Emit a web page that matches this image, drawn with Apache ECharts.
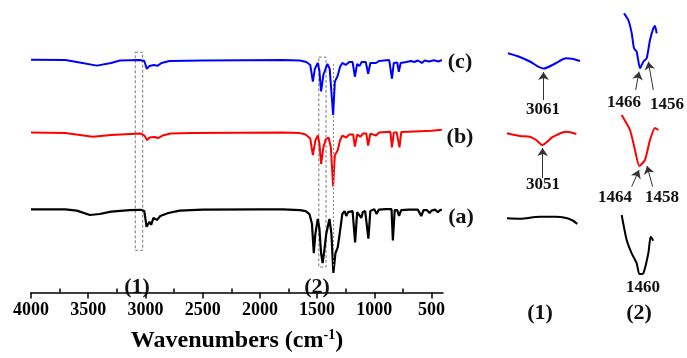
<!DOCTYPE html>
<html><head><meta charset="utf-8">
<script src="https://cdn.jsdelivr.net/npm/echarts@6/dist/echarts.min.js"></script>
<style>html,body{margin:0;padding:0;background:#fff}#c{width:687px;height:358px}</style>
</head><body><div id="c"></div>
<script>
// x tick labels and minor ticks (wavenumber, cm-1)
const xTickLabels = [4000,3500,3000,2500,2000,1500,1000,500];
const xMinorTicks = [3750,3250,2750,2250,1750,1250,750];

// Main spectra: [wavenumber, offset transmittance (a.u.)]
const specA = [[4000,84.7],[3700,84.7],[3600,83.5],[3485,79],[3400,80],[3300,82.5],[3136,84],[3040,84.3],[3010,83],[2990,67],[2965,72],[2950,69],[2930,76],[2900,74],[2870,78],[2800,81],[2700,83.5],[2500,84.5],[2000,84.8],[1800,84.8],[1650,84],[1600,83],[1567,80],[1545,70],[1529,40],[1515,60],[1494,75],[1480,65],[1465,40],[1452,30],[1440,40],[1420,60],[1392,75],[1375,60],[1358,20],[1340,40],[1320,46],[1305,58],[1280,80],[1260,83],[1245,78],[1230,82],[1190,83],[1168,51],[1150,82],[1140,83],[1114,76],[1100,82],[1080,83],[1052,55],[1035,83],[1000,85],[980,80],[960,84.5],[900,85],[850,85],[838,53],[822,84],[800,84],[784,78],[765,84],[700,84.5],[620,84.5],[590,78],[570,84],[540,84],[518,81],[500,83.5],[470,84.5],[445,82],[425,84],[410,84.5]];
const specB = [[4000,163],[3700,162.5],[3460,158.7],[3300,160.5],[3130,161.5],[3040,162],[3010,160],[2985,155.3],[2965,158],[2950,156],[2920,158.5],[2890,157.5],[2850,160],[2780,162],[2600,162.5],[1800,163],[1650,162.5],[1600,161],[1560,157],[1537,140],[1515,155],[1494,160],[1480,152],[1465,131],[1445,148],[1425,156],[1400,158],[1380,148],[1360,108],[1345,140],[1320,145],[1300,155],[1280,160],[1245,158],[1220,161],[1185,161],[1170,148.7],[1150,161],[1120,159],[1100,162],[1070,162],[1054,149.7],[1035,162],[985,160],[960,163],[860,164],[846,148],[830,163],[805,163.5],[780,148],[765,163.5],[700,164],[600,164.5],[500,165],[410,166]];
const specC = [[4000,237.3],[3700,237],[3600,235],[3424,231.3],[3300,234],[3223,236.5],[3050,237],[3010,236],[2988,228],[2965,231],[2950,229.5],[2925,232],[2895,231],[2860,234],[2790,236],[2500,236.5],[1800,237],[1650,236.5],[1594,235],[1560,232],[1537,215],[1520,228],[1494,234],[1480,226],[1465,205],[1445,222],[1410,233],[1390,228],[1360,181],[1345,215],[1320,221],[1300,230],[1280,234],[1250,232],[1220,235],[1190,235],[1170,220],[1150,233],[1130,231],[1110,235],[1075,235],[1054,223],[1035,234],[985,234],[960,236],[870,237],[846,218],[830,234],[800,234.5],[786,225],[770,234],[720,235],[680,236],[650,235],[620,236.5],[585,234],[560,236.5],[520,235.5],[480,236.8],[440,235.5],[410,237]];

// Inset (1): 3100-3020 cm-1
const ins1C = [[3099,244.7],[3086,241],[3075,236.5],[3060,229.5],[3047,234.5],[3035,239.7],[3029,239.2],[3020,237]];
const ins1B = [[3100,164.7],[3086,162],[3075,161.3],[3068,158],[3061,153],[3055,157],[3050,161],[3035,166.3],[3024,164]];
const ins1A = [[3100,79.7],[3086,79.3],[3064,81.3],[3047,81.3],[3035,80],[3028,77.5],[3023,74]];
// Inset (2): 1490-1442 cm-1
const ins2C = [[1485.2,284.7],[1480,278],[1476,265],[1473.2,249.7],[1470,246.3],[1466,229.7],[1462,236.3],[1458,239.7],[1454,258],[1450,269.7],[1448,272],[1446,264.7]];
const ins2B = [[1488,183],[1478,168],[1472,148],[1466.8,132],[1460,138],[1454,158],[1448,170],[1444,168]];
const ins2A = [[1488,83],[1482,58],[1476,44.7],[1470,34.7],[1466.8,24],[1462,24.7],[1456,44.7],[1453.2,61.3],[1450,57.3]];

const FONT = "'Liberation Serif','Times New Roman',serif";
const chart = echarts.init(document.getElementById('c'));

function arrow(from, to){ return [{coord:from},{coord:to}]; }
const arrowStyle = {symbol:['none','arrow'], symbolSize:8, silent:true, animation:false,
  lineStyle:{color:'#333', width:1, type:'solid'}, itemStyle:{color:'#333'}, label:{show:false}};

function txt(x,y,s,size){
  return {type:'text', x:x, y:y, style:{text:s, font:'bold '+size+'px '+FONT, fill:'#111', align:'center', verticalAlign:'middle'}};
}

const option = {
  animation:false,
  backgroundColor:'#fff',
  grid:[
    {left:31, width:412, top:10, height:288},
    {left:507, width:73, top:10, height:288},
    {left:620, width:40, top:10, height:288}
  ],
  xAxis:[
    {type:'value', gridIndex:0, inverse:true, min:400, max:4000,
     axisLine:{show:true, onZero:false, lineStyle:{color:'#000', width:1.5}},
     axisTick:{show:true, customValues:xTickLabels, length:6, inside:false, lineStyle:{color:'#000', width:1.5}},
     axisLabel:{show:true, customValues:xTickLabels, formatter:function(v){return String(v);}, margin:9, color:'#000', fontFamily:FONT, fontWeight:'bold', fontSize:18},
     splitLine:{show:false},
     name:'Wavenumbers (cm{sup|-1})', nameLocation:'middle', nameGap:36,
     nameTextStyle:{color:'#000', fontFamily:FONT, fontWeight:'bold', fontSize:24,
       rich:{sup:{fontFamily:FONT, fontWeight:'bold', fontSize:14, verticalAlign:'top', padding:[0,0,11,0], color:'#000'}}}},
    {type:'value', gridIndex:0, inverse:true, min:400, max:4000,
     axisLine:{show:false}, axisLabel:{show:false}, splitLine:{show:false},
     axisTick:{show:true, customValues:xMinorTicks, length:4, inside:false, lineStyle:{color:'#000', width:1.5}}},
    {type:'value', gridIndex:1, inverse:true, min:3020, max:3100, show:false},
    {type:'value', gridIndex:2, inverse:true, min:1442, max:1490, show:false}
  ],
  yAxis:[
    {type:'value', gridIndex:0, min:0, max:288, show:false},
    {type:'value', gridIndex:1, min:0, max:288, show:false},
    {type:'value', gridIndex:2, min:0, max:288, show:false}
  ],
  series:[
    {type:'line', xAxisIndex:0, yAxisIndex:0, data:specA, showSymbol:false, lineStyle:{color:'#000', width:2.2}, z:3,
     markArea:{silent:true, itemStyle:{color:'rgba(0,0,0,0)', borderColor:'#777', borderWidth:1, borderType:[3,2]},
       data:[[{xAxis:3089, yAxis:245},{xAxis:3024, yAxis:43}],[{xAxis:1485, yAxis:240},{xAxis:1422, yAxis:26}]]},
     markLine:{silent:true, symbol:['none','none'], label:{show:false}, lineStyle:{color:'#888', width:1, type:[2,2]},
       data:[[{coord:[1358,233]},{coord:[1358,26]}]]}},
    {type:'line', xAxisIndex:0, yAxisIndex:0, data:specB, showSymbol:false, lineStyle:{color:'#ff0000', width:2}, z:4},
    {type:'line', xAxisIndex:0, yAxisIndex:0, data:specC, showSymbol:false, lineStyle:{color:'#0000ff', width:2}, z:5},

    {type:'line', xAxisIndex:2, yAxisIndex:1, data:ins1C, showSymbol:false, smooth:0.3, lineStyle:{color:'#0000ff', width:2},
     markLine:Object.assign({data:[arrow([3060,198],[3060,226])]}, arrowStyle)},
    {type:'line', xAxisIndex:2, yAxisIndex:1, data:ins1B, showSymbol:false, smooth:0.3, lineStyle:{color:'#ff0000', width:2},
     markLine:Object.assign({data:[arrow([3061,120],[3061,150])]}, arrowStyle)},
    {type:'line', xAxisIndex:2, yAxisIndex:1, data:ins1A, showSymbol:false, smooth:0.3, lineStyle:{color:'#000', width:2}},

    {type:'line', xAxisIndex:3, yAxisIndex:2, data:ins2C, showSymbol:false, smooth:0.2, lineStyle:{color:'#0000ff', width:2},
     markLine:Object.assign({data:[arrow([1471.2,208],[1467.2,226.3]), arrow([1450,208],[1456,236.3])]}, arrowStyle)},
    {type:'line', xAxisIndex:3, yAxisIndex:2, data:ins2B, showSymbol:false, smooth:0.2, lineStyle:{color:'#ff0000', width:2},
     markLine:Object.assign({data:[arrow([1476,111.3],[1467.2,128]), arrow([1450.8,111.3],[1457.6,132])]}, arrowStyle)},
    {type:'line', xAxisIndex:3, yAxisIndex:2, data:ins2A, showSymbol:false, smooth:0.2, lineStyle:{color:'#000', width:2}}
  ],
  graphic:[
    txt(460,62,'(c)',22),
    txt(460,137,'(b)',22),
    txt(461,217,'(a)',22),
    txt(137,287,'(1)',22),
    txt(317,287,'(2)',22),
    txt(540,313,'(1)',22),
    txt(639,313,'(2)',22),
    txt(543,110,'3061',17),
    txt(543,185,'3051',17),
    txt(624,103,'1466',17),
    txt(667,105,'1456',17),
    txt(615,198,'1464',17),
    txt(662,198,'1458',17),
    txt(643,288,'1460',17)
  ]
};
chart.setOption(option);
</script>
</body></html>
